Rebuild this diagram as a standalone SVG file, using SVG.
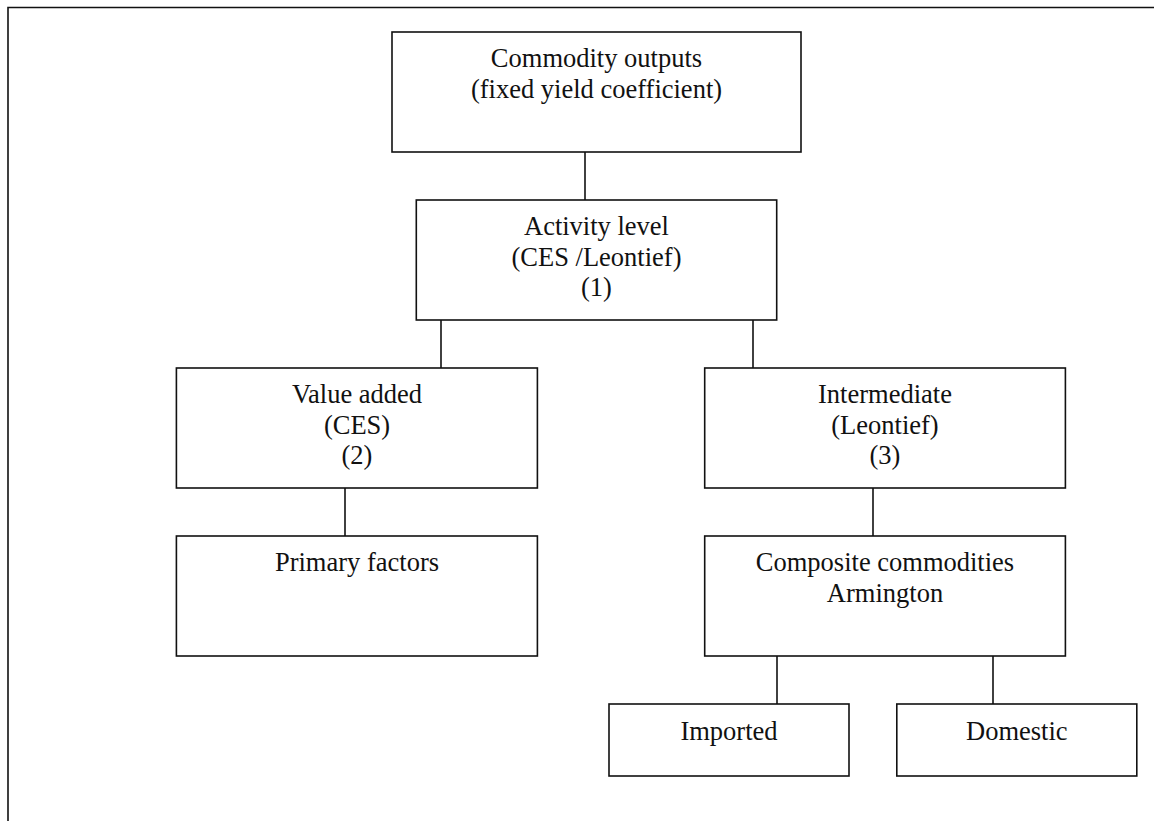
<svg xmlns="http://www.w3.org/2000/svg" width="1154" height="821" viewBox="0 0 1154 821">
<style>
.box{fill:#fff;stroke:#111;stroke-width:1.6}
.ln{stroke:#111;stroke-width:1.6;fill:none}
text{font-family:"Liberation Serif","Times New Roman",serif;font-size:26.5px;fill:#111;text-anchor:middle}
</style>
<rect x="0" y="0" width="1154" height="821" fill="#fff"/>
<path class="ln" d="M8,821 V7.5 H1154"/>
<g id="connectors">
<line class="ln" x1="585" y1="152" x2="585" y2="200"/>
<line class="ln" x1="441" y1="320" x2="441" y2="368"/>
<line class="ln" x1="753" y1="320" x2="753" y2="368"/>
<line class="ln" x1="345" y1="488" x2="345" y2="536"/>
<line class="ln" x1="873" y1="488" x2="873" y2="536"/>
<line class="ln" x1="777" y1="656" x2="777" y2="704"/>
<line class="ln" x1="993" y1="656" x2="993" y2="704"/>
</g>
<g id="commodity-outputs">
<rect class="box" x="392" y="32" width="409" height="120"/>
<text x="596.5" y="67">Commodity outputs</text>
<text x="596.5" y="97.5">(fixed yield coefficient)</text>
</g>
<g id="activity-level">
<rect class="box" x="416.3" y="200" width="360.4" height="120"/>
<text x="596.5" y="235">Activity level</text>
<text x="596.5" y="265.5">(CES /Leontief)</text>
<text x="596.5" y="296">(1)</text>
</g>
<g id="value-added">
<rect class="box" x="176.4" y="368" width="361" height="120"/>
<text x="357" y="403">Value added</text>
<text x="357" y="433.5">(CES)</text>
<text x="357" y="464">(2)</text>
</g>
<g id="intermediate">
<rect class="box" x="704.7" y="368" width="360.7" height="120"/>
<text x="885" y="403">Intermediate</text>
<text x="885" y="433.5">(Leontief)</text>
<text x="885" y="464">(3)</text>
</g>
<g id="primary-factors">
<rect class="box" x="176.4" y="536" width="361" height="120"/>
<text x="357" y="571">Primary factors</text>
</g>
<g id="composite-commodities">
<rect class="box" x="704.7" y="536" width="360.7" height="120"/>
<text x="885" y="571">Composite commodities</text>
<text x="885" y="601.5">Armington</text>
</g>
<g id="imported">
<rect class="box" x="609" y="704" width="240" height="72"/>
<text x="729" y="740">Imported</text>
</g>
<g id="domestic">
<rect class="box" x="896.8" y="704" width="240" height="72"/>
<text x="1016.8" y="740">Domestic</text>
</g>
</svg>
